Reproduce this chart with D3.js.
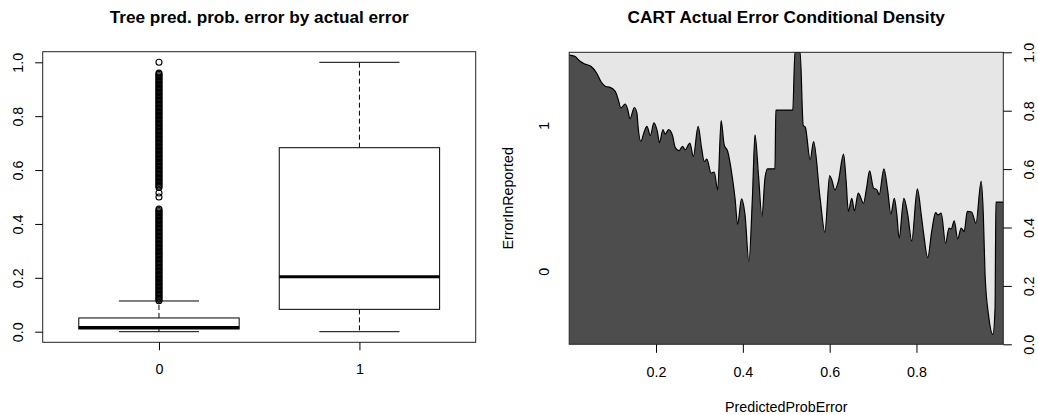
<!DOCTYPE html>
<html>
<head>
<meta charset="utf-8">
<script src="https://cdn.jsdelivr.net/npm/d3@7"></script>
<style>
body { margin: 0; background: #fff; }
svg text { font-family: "Liberation Sans", Arial, Helvetica, sans-serif; fill: #000; }
</style>
</head>
<body>
<svg id="chart" width="1038" height="415"></svg>
<script>
// boxplot: predicted prob. of error, split by actual error
const groups = ["0", "1"];
const boxMin = [0.000, 0.000];
const boxQ1 = [0.010, 0.083];
const boxMed = [0.016, 0.204];
const boxQ3 = [0.051, 0.683];
const boxMax = [0.114, 1.000];
const outliers0 = [
  0.115, 0.12, 0.125, 0.13, 0.135, 0.14, 0.145, 0.15, 0.155, 0.16, 0.165, 0.17,
  0.175, 0.18, 0.185, 0.19, 0.195, 0.2, 0.205, 0.21, 0.215, 0.22, 0.225, 0.23,
  0.235, 0.24, 0.245, 0.25, 0.255, 0.26, 0.265, 0.27, 0.275, 0.28, 0.285, 0.29,
  0.295, 0.3, 0.305, 0.31, 0.315, 0.32, 0.325, 0.33, 0.335, 0.34, 0.345, 0.35,
  0.355, 0.36, 0.365, 0.37, 0.375, 0.38, 0.385, 0.39, 0.395, 0.4, 0.405, 0.41,
  0.415, 0.42, 0.425, 0.43, 0.435, 0.44, 0.445, 0.45, 0.455,
  0.50, 0.515,
  0.535, 0.54, 0.545, 0.55, 0.555, 0.56, 0.565, 0.57, 0.575, 0.58, 0.585, 0.59,
  0.595, 0.6, 0.605, 0.61, 0.615, 0.62, 0.625, 0.63, 0.635, 0.64, 0.645, 0.65,
  0.655, 0.66, 0.665, 0.67, 0.675, 0.68, 0.685, 0.69, 0.695, 0.7, 0.705, 0.71,
  0.715, 0.72, 0.725, 0.73, 0.735, 0.74, 0.745, 0.75, 0.755, 0.76, 0.765, 0.77,
  0.775, 0.78, 0.785, 0.79, 0.795, 0.8, 0.805, 0.81, 0.815, 0.82, 0.825, 0.83,
  0.835, 0.84, 0.845, 0.85, 0.855, 0.86, 0.865, 0.87, 0.875, 0.88, 0.885, 0.89,
  0.895, 0.9, 0.905, 0.91, 0.915, 0.92, 0.925, 0.93, 0.935, 0.94, 0.945, 0.95,
  0.955, 0.96,
  1.0
];
const yTicks = [0, 0.2, 0.4, 0.6, 0.8, 1.0];

// conditional density: P(ErrorInReported = 0 | PredictedProbError)
const probX = [
  0.000, 0.013, 0.025, 0.036, 0.050, 0.063, 0.073, 0.084, 0.094, 0.106,
  0.113, 0.119, 0.129, 0.135, 0.140, 0.150, 0.156, 0.159, 0.165, 0.173,
  0.179, 0.187, 0.195, 0.203, 0.208, 0.216, 0.221, 0.229, 0.238, 0.244,
  0.253, 0.261, 0.267, 0.278, 0.286, 0.297, 0.305, 0.311, 0.317, 0.327,
  0.334, 0.342, 0.350, 0.357, 0.365, 0.376, 0.382, 0.388, 0.397, 0.405,
  0.414, 0.422, 0.428, 0.436, 0.444, 0.451, 0.457, 0.474, 0.476, 0.515,
  0.520, 0.532, 0.539, 0.544, 0.555, 0.563, 0.578, 0.589, 0.600, 0.605,
  0.612, 0.620, 0.632, 0.638, 0.643, 0.651, 0.657, 0.666, 0.678, 0.685,
  0.692, 0.701, 0.709, 0.714, 0.725, 0.734, 0.741, 0.749, 0.755, 0.760,
  0.771, 0.780, 0.789, 0.802, 0.811, 0.816, 0.826, 0.835, 0.844, 0.850,
  0.857, 0.867, 0.875, 0.880, 0.887, 0.895, 0.903, 0.910, 0.917, 0.927,
  0.937, 0.949, 0.954, 0.958, 0.966, 0.976, 0.981, 0.983, 1.000
];
const probNoError = [
  0.990, 0.986, 0.969, 0.960, 0.952, 0.929, 0.900, 0.883, 0.880, 0.866,
  0.838, 0.809, 0.823, 0.803, 0.772, 0.811, 0.792, 0.740, 0.695, 0.729,
  0.746, 0.715, 0.758, 0.729, 0.691, 0.735, 0.720, 0.735, 0.715, 0.675,
  0.663, 0.678, 0.666, 0.689, 0.643, 0.746, 0.672, 0.626, 0.634, 0.586,
  0.590, 0.529, 0.766, 0.683, 0.661, 0.569, 0.500, 0.411, 0.498, 0.443,
  0.283, 0.500, 0.717, 0.580, 0.438, 0.569, 0.601, 0.601, 0.802, 0.802,
  1.000, 1.000, 0.750, 0.743, 0.632, 0.694, 0.500, 0.384, 0.578, 0.563,
  0.529, 0.558, 0.651, 0.558, 0.455, 0.500, 0.457, 0.518, 0.483, 0.535,
  0.594, 0.535, 0.529, 0.512, 0.601, 0.523, 0.446, 0.500, 0.440, 0.363,
  0.500, 0.443, 0.354, 0.532, 0.443, 0.384, 0.297, 0.386, 0.451, 0.443,
  0.449, 0.346, 0.398, 0.395, 0.423, 0.361, 0.398, 0.386, 0.455, 0.453,
  0.415, 0.558, 0.443, 0.238, 0.100, 0.034, 0.123, 0.487, 0.487
];
const xTicksR = [0.2, 0.4, 0.6, 0.8];
const levelLabels = ["0", "1"];
const levelPos = [0.25, 0.75];

const svg = d3.select("#chart");
const fontSize = 14.3;

function styleAxis(g) {
  g.attr("font-size", fontSize).attr("font-family", null);
  g.select(".domain").remove();
  g.selectAll(".tick line").attr("stroke", "#000");
}

function rotateLabels(g, offset) {
  g.selectAll(".tick text")
    .attr("x", 0).attr("y", 0).attr("dy", "0.35em")
    .attr("text-anchor", "middle")
    .attr("transform", `translate(${offset},0) rotate(-90)`);
}

// ---------- left panel: boxplot ----------
const L = { left: 42.7, right: 475.7, top: 51.7, bottom: 342.3 };
const xL = d3.scaleLinear().domain([0.42, 2.58]).range([L.left, L.right]);
const yL = d3.scaleLinear().domain([0, 1]).range([331.7, 62.3]);

svg.append("text")
  .attr("x", (L.left + L.right) / 2).attr("y", 22.7)
  .attr("text-anchor", "middle")
  .attr("font-weight", "bold").attr("font-size", 17.2)
  .text("Tree pred. prob. error by actual error");

const boxW = 0.8, stapleW = 0.4;
const gBox = svg.append("g");
groups.forEach(function(grp, i) {
  const cx = xL(i + 1);
  const half = (xL(1 + boxW / 2) - xL(1));
  const sHalf = (xL(1 + stapleW / 2) - xL(1));
  // whiskers
  gBox.append("line")
    .attr("x1", cx).attr("x2", cx)
    .attr("y1", yL(boxQ3[i])).attr("y2", yL(boxMax[i]))
    .attr("stroke", "#000").attr("stroke-dasharray", "5,3");
  gBox.append("line")
    .attr("x1", cx).attr("x2", cx)
    .attr("y1", yL(boxQ1[i])).attr("y2", yL(boxMin[i]))
    .attr("stroke", "#000").attr("stroke-dasharray", "5,3");
  // staples
  [boxMin[i], boxMax[i]].forEach(function(v) {
    gBox.append("line")
      .attr("x1", cx - sHalf).attr("x2", cx + sHalf)
      .attr("y1", yL(v)).attr("y2", yL(v))
      .attr("stroke", "#000");
  });
  // box
  gBox.append("rect")
    .attr("x", cx - half).attr("width", 2 * half)
    .attr("y", yL(boxQ3[i])).attr("height", yL(boxQ1[i]) - yL(boxQ3[i]))
    .attr("fill", "#fff").attr("stroke", "#000");
  // median
  gBox.append("line")
    .attr("x1", cx - half).attr("x2", cx + half)
    .attr("y1", yL(boxMed[i])).attr("y2", yL(boxMed[i]))
    .attr("stroke", "#000").attr("stroke-width", 3);
});

gBox.selectAll("circle.out")
  .data(outliers0)
  .join("circle")
  .attr("class", "out")
  .attr("cx", xL(1)).attr("cy", d => yL(d))
  .attr("r", 3)
  .attr("fill", "none").attr("stroke", "#000").attr("stroke-width", 1.1);

svg.append("rect")
  .attr("x", L.left).attr("y", L.top)
  .attr("width", L.right - L.left).attr("height", L.bottom - L.top)
  .attr("fill", "none").attr("stroke", "#222");

const axYL = svg.append("g")
  .attr("transform", `translate(${L.left},0)`)
  .call(d3.axisLeft(yL).tickValues(yTicks).tickSize(7.5).tickFormat(d3.format(".1f")))
  .call(styleAxis);
rotateLabels(axYL, -24.7);

svg.append("g")
  .attr("transform", `translate(0,${L.bottom})`)
  .call(d3.axisBottom(xL).tickValues([1, 2]).tickSize(8).tickFormat(d => groups[d - 1]))
  .call(styleAxis)
  .selectAll(".tick text").attr("y", 32).attr("dy", 0);

// ---------- right panel: conditional density ----------
const R = { left: 569.2, right: 1003.3, top: 52.3, bottom: 344.3 };
const xR = d3.scaleLinear().domain([0, 1]).range([R.left, R.right]);
const yR = d3.scaleLinear().domain([0, 1]).range([R.bottom, R.top]);
const pts = probX.map((x, i) => [x, probNoError[i]]);

svg.append("text")
  .attr("x", (R.left + R.right) / 2).attr("y", 22.7)
  .attr("text-anchor", "middle")
  .attr("font-weight", "bold").attr("font-size", 17.2)
  .text("CART Actual Error Conditional Density");

svg.append("defs").append("clipPath").attr("id", "clipR")
  .append("rect")
  .attr("x", R.left).attr("y", R.top)
  .attr("width", R.right - R.left).attr("height", R.bottom - R.top);

const gR = svg.append("g").attr("clip-path", "url(#clipR)");
gR.append("rect")
  .attr("x", R.left).attr("y", R.top)
  .attr("width", R.right - R.left).attr("height", R.bottom - R.top)
  .attr("fill", "#e6e6e6");

const area = d3.area()
  .x(d => xR(d[0]))
  .y0(yR(0))
  .y1(d => yR(d[1]))
  .curve(d3.curveMonotoneX);
const line = d3.line()
  .x(d => xR(d[0]))
  .y(d => yR(d[1]))
  .curve(d3.curveMonotoneX);

gR.append("path").datum(pts).attr("d", area).attr("fill", "#4d4d4d");
gR.append("path").datum(pts).attr("d", line)
  .attr("fill", "none").attr("stroke", "#000").attr("stroke-width", 1.2);

svg.append("rect")
  .attr("x", R.left).attr("y", R.top)
  .attr("width", R.right - R.left).attr("height", R.bottom - R.top)
  .attr("fill", "none").attr("stroke", "#222");

svg.append("g")
  .attr("transform", `translate(0,${R.bottom})`)
  .call(d3.axisBottom(xR).tickValues(xTicksR).tickSize(8.5).tickFormat(d3.format(".1f")))
  .call(styleAxis)
  .selectAll(".tick text").attr("y", 32.4).attr("dy", 0);

const axRR = svg.append("g")
  .attr("transform", `translate(${R.right},0)`)
  .call(d3.axisRight(yR).tickValues(yTicks).tickSize(8.5).tickFormat(d3.format(".1f")))
  .call(styleAxis);
rotateLabels(axRR, 25.7);

const axRL = svg.append("g")
  .attr("transform", `translate(${R.left},0)`)
  .call(d3.axisLeft(yR).tickValues(levelPos).tickSize(0).tickFormat((d, i) => levelLabels[i]))
  .call(styleAxis);
axRL.selectAll(".tick line").remove();
rotateLabels(axRL, -25.5);

svg.append("text")
  .attr("transform", `translate(508.3,${(R.top + R.bottom) / 2}) rotate(-90)`)
  .attr("dy", "0.35em")
  .attr("text-anchor", "middle").attr("font-size", fontSize)
  .text("ErrorInReported");

svg.append("text")
  .attr("x", (R.left + R.right) / 2).attr("y", 411.5)
  .attr("text-anchor", "middle").attr("font-size", fontSize)
  .text("PredictedProbError");
</script>
</body>
</html>
